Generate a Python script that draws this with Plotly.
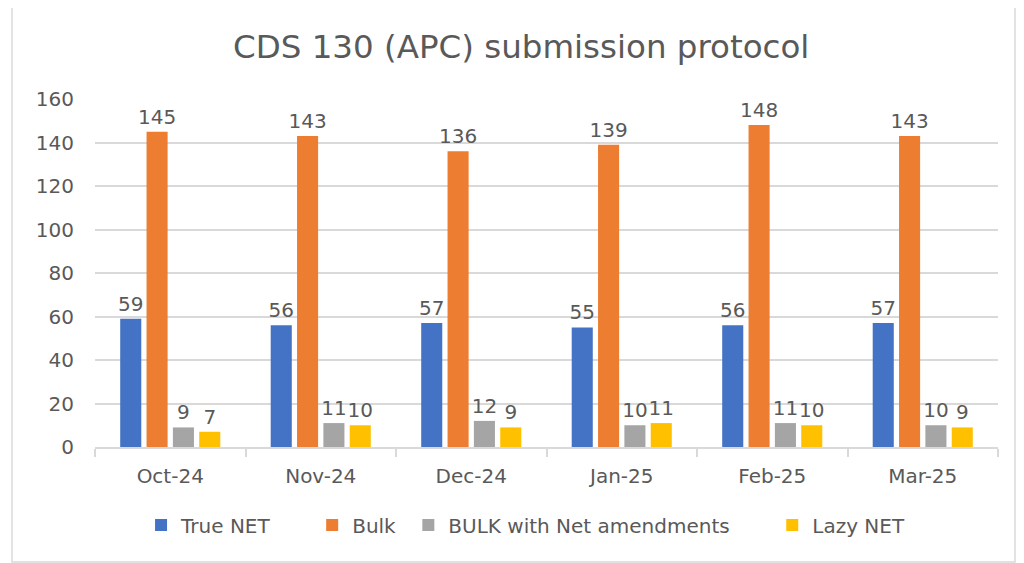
import plotly.graph_objects as go

categories = ["Oct-24", "Nov-24", "Dec-24", "Jan-25", "Feb-25", "Mar-25"]
true_net = [59, 56, 57, 55, 56, 57]
bulk = [145, 143, 136, 139, 148, 143]
bulk_net_amend = [9, 11, 12, 10, 11, 10]
lazy_net = [7, 10, 9, 11, 10, 9]
y_ticks = [0, 20, 40, 60, 80, 100, 120, 140, 160]

series = [
    ("True NET", true_net, "#4472C4"),
    ("Bulk", bulk, "#ED7D31"),
    ("BULK with Net amendments", bulk_net_amend, "#A5A5A5"),
    ("Lazy NET", lazy_net, "#FFC000"),
]
legend_ids = ["legend", "legend2", "legend3", "legend4"]
legend_x = [0.051, 0.2405, 0.347, 0.750]

font_family = "DejaVu Sans"
grey = "#595959"

fig = go.Figure()
for (name, vals, color), lid in zip(series, legend_ids):
    fig.add_trace(go.Bar(
        name=name, x=categories, y=vals, marker_color=color,
        marker_line_width=0,
        text=vals, textposition="outside", textangle=0, constraintext="none",
        textfont=dict(size=20, color=grey, family=font_family),
        cliponaxis=False, legend=lid, showlegend=True,
    ))

legend_style = dict(orientation="h", xanchor="left", y=-0.224, yanchor="middle",
                    font=dict(size=20, color=grey, family=font_family),
                    itemwidth=30, bgcolor="rgba(0,0,0,0)")

fig.update_layout(
    width=1016, height=555,
    margin=dict(l=87, r=26, t=91, b=116),
    paper_bgcolor="white", plot_bgcolor="white",
    showlegend=True,
    barmode="group", bargap=0.3, bargroupgap=0.2,
    title=dict(text="CDS 130 (APC) submission protocol", xref="paper", x=0.472,
               xanchor="center", y=0.93, yanchor="middle",
               font=dict(size=32.5, color=grey, family=font_family)),
    font=dict(family=font_family, color=grey),
    shapes=[dict(type="rect", xref="paper", yref="paper",
                 x0=-0.0919, x1=1.0188, y0=-0.3305, y1=1.267,
                 line=dict(color="#D9D9D9", width=1.5), fillcolor="rgba(0,0,0,0)",
                 layer="below")],
)
for lid, lx in zip(legend_ids, legend_x):
    fig.update_layout({lid: dict(legend_style, x=lx)})

fig.update_yaxes(range=[0, 160], tickvals=y_ticks, showgrid=True, gridcolor="#D9D9D9",
                 gridwidth=1.5, zeroline=False, showline=False,
                 tickfont=dict(size=20, color=grey, family=font_family), ticklabelstandoff=20)
fig.update_xaxes(showline=True, linecolor="#D9D9D9", linewidth=1.5, ticks="outside",
                 tickson="boundaries", ticklen=8, tickcolor="#D9D9D9", tickwidth=1.5,
                 ticklabelstandoff=10,
                 tickfont=dict(size=20, color=grey, family=font_family))

fig.write_html("out.html")
